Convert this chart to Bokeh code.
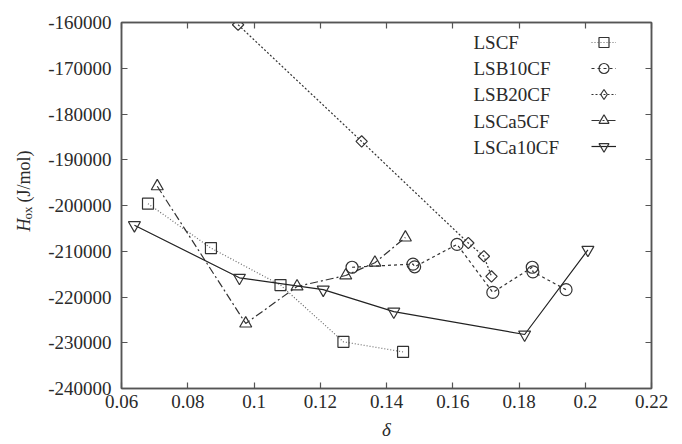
import math
from bokeh.plotting import figure
from bokeh.layouts import row
from bokeh.models import Range1d, FixedTicker, LinearAxis, Legend, LegendItem, Label
from bokeh.core.properties import value
from bokeh.embed import file_html
from bokeh.resources import INLINE

# Oxidation enthalpy vs. oxygen non-stoichiometry
series_names = ["LSCF", "LSB10CF", "LSB20CF", "LSCa5CF", "LSCa10CF"]

lscf_delta = [0.068, 0.087, 0.108, 0.127, 0.145]
lscf_h = [-199600, -209300, -217400, -229800, -232000]

lsb10cf_delta = [0.1296, 0.148, 0.1485, 0.1613, 0.1721, 0.184, 0.1842, 0.1942]
lsb10cf_h = [-213500, -212800, -213400, -208500, -219000, -213500, -214500, -218400]

lsb20cf_delta = [0.0952, 0.1325, 0.1647, 0.1694, 0.1717]
lsb20cf_h = [-160500, -186000, -208200, -211100, -215500]

lsca5cf_delta = [0.0708, 0.0975, 0.113, 0.1277, 0.1365, 0.1457]
lsca5cf_h = [-195800, -225800, -217700, -215300, -212500, -207000]

lsca10cf_delta = [0.0639, 0.0956, 0.1209, 0.1422, 0.1817, 0.2008]
lsca10cf_h = [-204300, -215800, -218400, -223200, -228200, -209700]

x_ticks = [0.06, 0.08, 0.1, 0.12, 0.14, 0.16, 0.18, 0.2, 0.22]
x_tick_labels = ["0.06", "0.08", "0.1", "0.12", "0.14", "0.16", "0.18", "0.2", "0.22"]
y_ticks = [-240000, -230000, -220000, -210000, -200000, -190000, -180000, -170000, -160000]
y_tick_labels = ["-240000", "-230000", "-220000", "-210000", "-200000",
                 "-190000", "-180000", "-170000", "-160000"]

SERIF = "Liberation Serif"
INK = "#2a2a2a"
FRAME = "#555555"
H = 444
TITLE_W = 40
FRAME_BOTTOM = 388   # canvas y of the plotting frame's bottom edge

# narrow strip holding the vertical y-axis title
strip = figure(width=TITLE_W, height=H, output_backend="svg", toolbar_location=None,
               x_axis_location=None, y_axis_location=None,
               x_range=Range1d(0, 1), y_range=Range1d(0, 1), min_border=0)
strip.grid.visible = False
strip.outline_line_color = None
strip.background_fill_color = "white"
strip.border_fill_color = "white"

# italic H, subscript "ox", then units (reading bottom to top)
yl_x = 23
strip.add_layout(Label(x=yl_x, y=FRAME_BOTTOM - 231, x_units="screen", y_units="screen",
                       text="H", angle=math.pi / 2, text_font=SERIF,
                       text_font_style="italic", text_font_size="18px", text_color=INK,
                       text_baseline="middle", text_align="left"))
strip.add_layout(Label(x=yl_x + 4, y=FRAME_BOTTOM - 219, x_units="screen", y_units="screen",
                       text="ox", angle=math.pi / 2, text_font=SERIF,
                       text_font_size="13px", text_color=INK, text_baseline="middle",
                       text_align="left"))
strip.add_layout(Label(x=yl_x, y=FRAME_BOTTOM - 202, x_units="screen", y_units="screen",
                       text="(J/mol)", angle=math.pi / 2, text_font=SERIF,
                       text_font_size="18px", text_color=INK, text_baseline="middle",
                       text_align="left"))

p = figure(width=682 - TITLE_W, height=H, output_backend="svg", toolbar_location=None,
           x_range=Range1d(0.06, 0.22), y_range=Range1d(-240000, -160000),
           min_border_left=121 - TITLE_W, min_border_right=31, min_border_top=22,
           min_border_bottom=H - FRAME_BOTTOM)
p.grid.visible = False
p.outline_line_color = FRAME
p.outline_line_width = 1.5
p.background_fill_color = "white"
p.border_fill_color = "white"

# x axis
xa = p.xaxis[0]
xa.ticker = FixedTicker(ticks=x_ticks)
xa.major_label_overrides = {t: s for t, s in zip(x_ticks, x_tick_labels)}
xa.axis_label = "δ"
xa.axis_label_text_font = SERIF
xa.axis_label_text_font_style = "italic"
xa.axis_label_text_font_size = "19px"
xa.axis_label_text_color = INK
xa.axis_label_standoff = 8

# y axis
ya = p.yaxis[0]
ya.ticker = FixedTicker(ticks=y_ticks)
ya.major_label_overrides = {t: s for t, s in zip(y_ticks, y_tick_labels)}

for ax in (xa, ya):
    ax.major_label_text_font = SERIF
    ax.major_label_text_font_size = "19px"
    ax.major_label_text_color = INK
    ax.major_tick_in = 6
    ax.major_tick_out = 0
    ax.minor_tick_line_color = None
    ax.axis_line_color = FRAME
    ax.axis_line_width = 1.5
    ax.major_tick_line_color = FRAME
    ax.major_tick_line_width = 1.2
xa.major_label_standoff = 6
ya.major_label_standoff = 10

# mirrored ticks on top and right (no labels)
for loc, ticks in (("above", x_ticks), ("right", y_ticks)):
    m = LinearAxis(ticker=FixedTicker(ticks=ticks),
                   major_label_overrides={t: "" for t in ticks},
                   major_tick_in=6, major_tick_out=0, minor_tick_line_color=None,
                   axis_line_color=FRAME, axis_line_width=1.5,
                   major_tick_line_color=FRAME, major_tick_line_width=1.2,
                   major_label_standoff=0)
    p.add_layout(m, loc)

# series: (name, x, y, line dash, line colour, marker, marker size, angle)
series = [
    ("LSCF", lscf_delta, lscf_h, "1 2", "#6a6a6a", "square", 11, 0.0),
    ("LSB10CF", lsb10cf_delta, lsb10cf_h, "3 3", "#333333", "circle", 12, 0.0),
    ("LSB20CF", lsb20cf_delta, lsb20cf_h, "2 2", "#333333", "square", 8, math.pi / 4),
    ("LSCa5CF", lsca5cf_delta, lsca5cf_h, "8 3 2 3", "#333333", "triangle", 12, 0.0),
    ("LSCa10CF", lsca10cf_delta, lsca10cf_h, "solid", "#222222", "inverted_triangle", 12, 0.0),
]

items = []
for name, xs, ys, dash, col, marker, size, ang in series:
    ln = p.line(xs, ys, line_color=col, line_width=1.2, line_dash=dash)
    mk = p.scatter(xs, ys, marker=marker, size=size, angle=ang,
                   fill_color=None, line_color="#333333", line_width=1.2)
    key = mk
    if ang:
        # legend samples ignore marker rotation, so the key uses a diamond
        key = p.scatter(xs, ys, marker="diamond", size=size, fill_color=None,
                        line_color="#333333", line_width=1.2, visible=False)
    items.append(LegendItem(label=value(""), renderers=[ln, key]))

# legend samples (glyphs only; series names are drawn as labels to their left)
legend = Legend(items=items, location=(470, 229), glyph_width=25, glyph_height=26,
                spacing=0, padding=0, margin=0, label_width=0, label_standoff=0,
                border_line_color=None, background_fill_alpha=0)
p.add_layout(legend)

# frame-relative screen units: x from the frame's left, y up from its bottom
FRAME_H = 366
row_top = 20
for i, name in enumerate(series_names):
    p.add_layout(Label(x=352, y=FRAME_H - (row_top + i * 26.2), x_units="screen",
                       y_units="screen", text=name, text_font=SERIF,
                       text_font_size="19px", text_color=INK,
                       text_baseline="middle", text_align="left"))

open("out.html", "w").write(file_html(row(strip, p), INLINE))
